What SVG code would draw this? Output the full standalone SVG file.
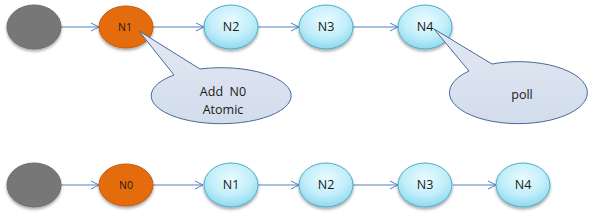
<svg xmlns="http://www.w3.org/2000/svg" width="597" height="217" viewBox="0 0 597 217">
<defs>
<radialGradient id="blue" cx="50%" cy="35%" r="65%">
<stop offset="0" stop-color="#e8fbff"/>
<stop offset="0.6" stop-color="#c2eefa"/>
<stop offset="1" stop-color="#8fd9ef"/>
</radialGradient>
<linearGradient id="call" x1="0" y1="0" x2="0" y2="1">
<stop offset="0" stop-color="#e3e9f3"/>
<stop offset="1" stop-color="#d2dcec"/>
</linearGradient>
<filter id="sh" x="-20%" y="-20%" width="140%" height="150%">
<feGaussianBlur in="SourceAlpha" stdDeviation="1.5"/>
<feOffset dx="0" dy="2" result="b"/>
<feComponentTransfer><feFuncA type="linear" slope="0.35"/></feComponentTransfer>
<feMerge><feMergeNode/><feMergeNode in="SourceGraphic"/></feMerge>
</filter>
<marker id="arr" markerWidth="10" markerHeight="10" refX="9" refY="5" orient="auto" markerUnits="userSpaceOnUse">
<path d="M1,1 L9,5 L1,9" fill="none" stroke="#4f81bd" stroke-width="1"/>
</marker>
</defs>
<style>
.gray{fill:#777777;stroke:#6a6a6a;stroke-width:1;filter:url(#sh)}
.org{fill:#e46c0a;stroke:#c55a08;stroke-width:1;filter:url(#sh)}
.blu{fill:url(#blue);stroke:#4bacc6;stroke-width:1;filter:url(#sh)}
.conn line{stroke:#4f81bd;stroke-width:1;marker-end:url(#arr)}
.lbl{font-family:"Open Sans","Liberation Sans",sans-serif;font-size:12.5px;fill:#1a1a1a;text-anchor:middle}
.small{font-size:10.5px}
.cl{fill:url(#call);stroke:#4a6a94;stroke-width:1}
</style>
<g id="conns" class="conn">
<line x1="61" y1="27" x2="99" y2="27"/>
<line x1="153" y1="27" x2="204" y2="27"/>
<line x1="258" y1="27" x2="299" y2="27"/>
<line x1="353" y1="27" x2="398" y2="27"/>
<line x1="61" y1="185" x2="99" y2="185"/>
<line x1="152" y1="185" x2="203" y2="185"/>
<line x1="258" y1="185" x2="299" y2="185"/>
<line x1="353" y1="185" x2="398" y2="185"/>
<line x1="453" y1="185" x2="496" y2="185"/>
</g>
<g id="g1"><ellipse class="gray" cx="34" cy="27" rx="27" ry="22"/></g>
<g id="n1"><ellipse class="org" cx="126" cy="27" rx="27" ry="21"/><text class="lbl small" x="125" y="31">N1</text></g>
<g id="n2"><ellipse class="blu" cx="231" cy="27" rx="27" ry="22"/><text class="lbl" x="231" y="31">N2</text></g>
<g id="n3"><ellipse class="blu" cx="326" cy="27" rx="27" ry="22"/><text class="lbl" x="326" y="31">N3</text></g>
<g id="n4"><ellipse class="blu" cx="425" cy="27" rx="27" ry="22"/><text class="lbl" x="425" y="31">N4</text></g>
<g id="callout1">
<path class="cl" d="M174,75 A70,28 0 1 0 200,69 L139,31 Z"/>
<text class="lbl" x="223" y="96" xml:space="preserve">Add  N0</text>
<text class="lbl" x="223" y="114">Atomic</text>
</g>
<g id="callout2">
<path class="cl" d="M469,71 A69,31 0 1 0 492,64 L434,29 Z"/>
<text class="lbl" x="522" y="99">poll</text>
</g>
<g id="g2"><ellipse class="gray" cx="34" cy="185" rx="27" ry="22"/></g>
<g id="n0b"><ellipse class="org" cx="126" cy="185" rx="27" ry="21"/><text class="lbl small" x="126" y="189">N0</text></g>
<g id="n1b"><ellipse class="blu" cx="231" cy="185" rx="27" ry="22"/><text class="lbl" x="231" y="189">N1</text></g>
<g id="n2b"><ellipse class="blu" cx="326" cy="185" rx="27" ry="22"/><text class="lbl" x="326" y="189">N2</text></g>
<g id="n3b"><ellipse class="blu" cx="425" cy="185" rx="27" ry="22"/><text class="lbl" x="425" y="189">N3</text></g>
<g id="n4b"><ellipse class="blu" cx="523" cy="185" rx="27" ry="22"/><text class="lbl" x="523" y="189">N4</text></g>
</svg>
